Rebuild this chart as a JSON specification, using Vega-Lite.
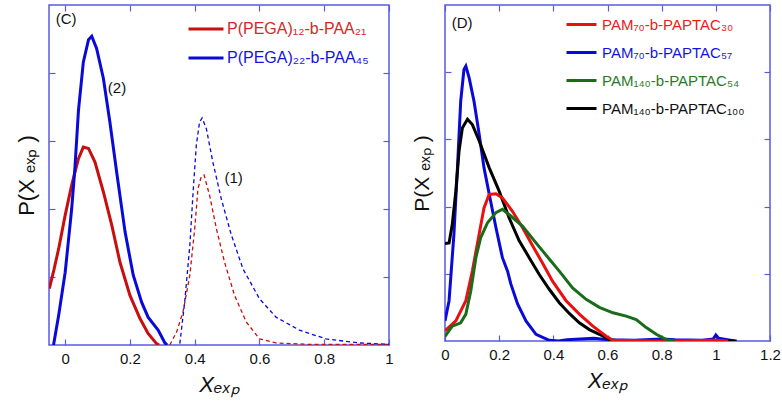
{
  "$schema": "https://vega.github.io/schema/vega-lite/v6.json",
  "padding": {"left": 14, "top": 3, "right": 3, "bottom": 5},
  "background": "white",
  "config": {
    "font": "Liberation Sans",
    "view": {"stroke": "#5a5ae6", "strokeWidth": 1.5},
    "axis": {"grid": false, "domain": false, "tickColor": "#5a5ae6", "tickWidth": 1.2, "tickSize": -6, "labelFont": "Liberation Sans", "titleFont": "Liberation Sans", "labelColor": "#111", "titleColor": "#111", "titleFontWeight": "normal", "labelFlush": false, "labelOverlap": false},
    "legend": {"labelFont": "Liberation Sans", "labelLimit": 400, "padding": 0, "symbolType": "stroke", "symbolStrokeWidth": 3, "symbolDash": [1, 0]}
  },
  "spacing": 16,
  "datasets": {
    "left": [
      {"s": "P(PEGA)₁₂-b-PAA₂₁", "k": "solid", "x": -0.049, "y": 0.83},
      {"s": "P(PEGA)₁₂-b-PAA₂₁", "k": "solid", "x": -0.035, "y": 1.1},
      {"s": "P(PEGA)₁₂-b-PAA₂₁", "k": "solid", "x": -0.02, "y": 1.42},
      {"s": "P(PEGA)₁₂-b-PAA₂₁", "k": "solid", "x": 0.0, "y": 1.91},
      {"s": "P(PEGA)₁₂-b-PAA₂₁", "k": "solid", "x": 0.02, "y": 2.35},
      {"s": "P(PEGA)₁₂-b-PAA₂₁", "k": "solid", "x": 0.041, "y": 2.74},
      {"s": "P(PEGA)₁₂-b-PAA₂₁", "k": "solid", "x": 0.056, "y": 2.91},
      {"s": "P(PEGA)₁₂-b-PAA₂₁", "k": "solid", "x": 0.072, "y": 2.89},
      {"s": "P(PEGA)₁₂-b-PAA₂₁", "k": "solid", "x": 0.092, "y": 2.69},
      {"s": "P(PEGA)₁₂-b-PAA₂₁", "k": "solid", "x": 0.118, "y": 2.25},
      {"s": "P(PEGA)₁₂-b-PAA₂₁", "k": "solid", "x": 0.144, "y": 1.76},
      {"s": "P(PEGA)₁₂-b-PAA₂₁", "k": "solid", "x": 0.169, "y": 1.22},
      {"s": "P(PEGA)₁₂-b-PAA₂₁", "k": "solid", "x": 0.2, "y": 0.73},
      {"s": "P(PEGA)₁₂-b-PAA₂₁", "k": "solid", "x": 0.231, "y": 0.39},
      {"s": "P(PEGA)₁₂-b-PAA₂₁", "k": "solid", "x": 0.256, "y": 0.17},
      {"s": "P(PEGA)₁₂-b-PAA₂₁", "k": "solid", "x": 0.282, "y": 0.02},
      {"s": "P(PEGA)₁₂-b-PAA₂₁", "k": "solid", "x": 0.29, "y": 0.0},
      {"s": "P(PEGA)₂₂-b-PAA₄₅", "k": "solid", "x": -0.036, "y": 0.0},
      {"s": "P(PEGA)₂₂-b-PAA₄₅", "k": "solid", "x": -0.02, "y": 0.44},
      {"s": "P(PEGA)₂₂-b-PAA₄₅", "k": "solid", "x": 0.0, "y": 1.07},
      {"s": "P(PEGA)₂₂-b-PAA₄₅", "k": "solid", "x": 0.02, "y": 2.0},
      {"s": "P(PEGA)₂₂-b-PAA₄₅", "k": "solid", "x": 0.03, "y": 2.6},
      {"s": "P(PEGA)₂₂-b-PAA₄₅", "k": "solid", "x": 0.041, "y": 3.45},
      {"s": "P(PEGA)₂₂-b-PAA₄₅", "k": "solid", "x": 0.056, "y": 4.16},
      {"s": "P(PEGA)₂₂-b-PAA₄₅", "k": "solid", "x": 0.072, "y": 4.49},
      {"s": "P(PEGA)₂₂-b-PAA₄₅", "k": "solid", "x": 0.082, "y": 4.54},
      {"s": "P(PEGA)₂₂-b-PAA₄₅", "k": "solid", "x": 0.097, "y": 4.36},
      {"s": "P(PEGA)₂₂-b-PAA₄₅", "k": "solid", "x": 0.118, "y": 3.92},
      {"s": "P(PEGA)₂₂-b-PAA₄₅", "k": "solid", "x": 0.138, "y": 3.28},
      {"s": "P(PEGA)₂₂-b-PAA₄₅", "k": "solid", "x": 0.159, "y": 2.54},
      {"s": "P(PEGA)₂₂-b-PAA₄₅", "k": "solid", "x": 0.185, "y": 1.66},
      {"s": "P(PEGA)₂₂-b-PAA₄₅", "k": "solid", "x": 0.21, "y": 1.03},
      {"s": "P(PEGA)₂₂-b-PAA₄₅", "k": "solid", "x": 0.236, "y": 0.63},
      {"s": "P(PEGA)₂₂-b-PAA₄₅", "k": "solid", "x": 0.256, "y": 0.41},
      {"s": "P(PEGA)₂₂-b-PAA₄₅", "k": "solid", "x": 0.287, "y": 0.22},
      {"s": "P(PEGA)₂₂-b-PAA₄₅", "k": "solid", "x": 0.308, "y": 0.03},
      {"s": "P(PEGA)₂₂-b-PAA₄₅", "k": "solid", "x": 0.315, "y": 0.0},
      {"s": "P(PEGA)₁₂-b-PAA₂₁", "k": "dash", "x": 0.323, "y": 0.0},
      {"s": "P(PEGA)₁₂-b-PAA₂₁", "k": "dash", "x": 0.344, "y": 0.19},
      {"s": "P(PEGA)₁₂-b-PAA₂₁", "k": "dash", "x": 0.364, "y": 0.49},
      {"s": "P(PEGA)₁₂-b-PAA₂₁", "k": "dash", "x": 0.385, "y": 1.03},
      {"s": "P(PEGA)₁₂-b-PAA₂₁", "k": "dash", "x": 0.4, "y": 1.71},
      {"s": "P(PEGA)₁₂-b-PAA₂₁", "k": "dash", "x": 0.41, "y": 2.3},
      {"s": "P(PEGA)₁₂-b-PAA₂₁", "k": "dash", "x": 0.42, "y": 2.47},
      {"s": "P(PEGA)₁₂-b-PAA₂₁", "k": "dash", "x": 0.429, "y": 2.5},
      {"s": "P(PEGA)₁₂-b-PAA₂₁", "k": "dash", "x": 0.446, "y": 2.2},
      {"s": "P(PEGA)₁₂-b-PAA₂₁", "k": "dash", "x": 0.467, "y": 1.71},
      {"s": "P(PEGA)₁₂-b-PAA₂₁", "k": "dash", "x": 0.492, "y": 1.22},
      {"s": "P(PEGA)₁₂-b-PAA₂₁", "k": "dash", "x": 0.523, "y": 0.73},
      {"s": "P(PEGA)₁₂-b-PAA₂₁", "k": "dash", "x": 0.559, "y": 0.34},
      {"s": "P(PEGA)₁₂-b-PAA₂₁", "k": "dash", "x": 0.6, "y": 0.09},
      {"s": "P(PEGA)₁₂-b-PAA₂₁", "k": "dash", "x": 0.651, "y": 0.03},
      {"s": "P(PEGA)₁₂-b-PAA₂₁", "k": "dash", "x": 0.75, "y": 0.01},
      {"s": "P(PEGA)₁₂-b-PAA₂₁", "k": "dash", "x": 0.9, "y": 0.01},
      {"s": "P(PEGA)₁₂-b-PAA₂₁", "k": "dash", "x": 1.0, "y": 0.01},
      {"s": "P(PEGA)₂₂-b-PAA₄₅", "k": "dash", "x": 0.354, "y": 0.02},
      {"s": "P(PEGA)₂₂-b-PAA₄₅", "k": "dash", "x": 0.369, "y": 0.63},
      {"s": "P(PEGA)₂₂-b-PAA₄₅", "k": "dash", "x": 0.385, "y": 1.47},
      {"s": "P(PEGA)₂₂-b-PAA₄₅", "k": "dash", "x": 0.395, "y": 2.25},
      {"s": "P(PEGA)₂₂-b-PAA₄₅", "k": "dash", "x": 0.405, "y": 2.94},
      {"s": "P(PEGA)₂₂-b-PAA₄₅", "k": "dash", "x": 0.415, "y": 3.28},
      {"s": "P(PEGA)₂₂-b-PAA₄₅", "k": "dash", "x": 0.423, "y": 3.34},
      {"s": "P(PEGA)₂₂-b-PAA₄₅", "k": "dash", "x": 0.436, "y": 3.18},
      {"s": "P(PEGA)₂₂-b-PAA₄₅", "k": "dash", "x": 0.456, "y": 2.69},
      {"s": "P(PEGA)₂₂-b-PAA₄₅", "k": "dash", "x": 0.482, "y": 2.15},
      {"s": "P(PEGA)₂₂-b-PAA₄₅", "k": "dash", "x": 0.513, "y": 1.62},
      {"s": "P(PEGA)₂₂-b-PAA₄₅", "k": "dash", "x": 0.549, "y": 1.12},
      {"s": "P(PEGA)₂₂-b-PAA₄₅", "k": "dash", "x": 0.6, "y": 0.68},
      {"s": "P(PEGA)₂₂-b-PAA₄₅", "k": "dash", "x": 0.651, "y": 0.41},
      {"s": "P(PEGA)₂₂-b-PAA₄₅", "k": "dash", "x": 0.723, "y": 0.22},
      {"s": "P(PEGA)₂₂-b-PAA₄₅", "k": "dash", "x": 0.805, "y": 0.09},
      {"s": "P(PEGA)₂₂-b-PAA₄₅", "k": "dash", "x": 0.908, "y": 0.03},
      {"s": "P(PEGA)₂₂-b-PAA₄₅", "k": "dash", "x": 1.0, "y": 0.01}
    ],
    "leftNotes": [
      {"t": "(C)", "x": 0.003, "y": 4.79},
      {"t": "(2)", "x": 0.16, "y": 3.78},
      {"t": "(1)", "x": 0.52, "y": 2.46}
    ],
    "right": [
      {"s": "PAM₇₀-b-PAPTAC₅₇", "x": 0.0, "y": 0.3},
      {"s": "PAM₇₀-b-PAPTAC₅₇", "x": 0.015, "y": 0.6},
      {"s": "PAM₇₀-b-PAPTAC₅₇", "x": 0.033, "y": 1.59},
      {"s": "PAM₇₀-b-PAPTAC₅₇", "x": 0.046, "y": 2.58},
      {"s": "PAM₇₀-b-PAPTAC₅₇", "x": 0.058, "y": 3.57},
      {"s": "PAM₇₀-b-PAPTAC₅₇", "x": 0.07, "y": 4.04},
      {"s": "PAM₇₀-b-PAPTAC₅₇", "x": 0.077, "y": 4.09},
      {"s": "PAM₇₀-b-PAPTAC₅₇", "x": 0.089, "y": 3.92},
      {"s": "PAM₇₀-b-PAPTAC₅₇", "x": 0.107, "y": 3.57},
      {"s": "PAM₇₀-b-PAPTAC₅₇", "x": 0.126, "y": 3.08},
      {"s": "PAM₇₀-b-PAPTAC₅₇", "x": 0.144, "y": 2.58},
      {"s": "PAM₇₀-b-PAPTAC₅₇", "x": 0.163, "y": 2.19},
      {"s": "PAM₇₀-b-PAPTAC₅₇", "x": 0.188, "y": 1.69},
      {"s": "PAM₇₀-b-PAPTAC₅₇", "x": 0.212, "y": 1.24},
      {"s": "PAM₇₀-b-PAPTAC₅₇", "x": 0.231, "y": 1.04},
      {"s": "PAM₇₀-b-PAPTAC₅₇", "x": 0.243, "y": 0.85},
      {"s": "PAM₇₀-b-PAPTAC₅₇", "x": 0.268, "y": 0.55},
      {"s": "PAM₇₀-b-PAPTAC₅₇", "x": 0.299, "y": 0.3},
      {"s": "PAM₇₀-b-PAPTAC₅₇", "x": 0.336, "y": 0.1},
      {"s": "PAM₇₀-b-PAPTAC₅₇", "x": 0.385, "y": 0.01},
      {"s": "PAM₇₀-b-PAPTAC₅₇", "x": 0.42, "y": 0.0},
      {"s": "PAM₇₀-b-PAPTAC₅₇", "x": 0.45, "y": 0.02},
      {"s": "PAM₇₀-b-PAPTAC₅₇", "x": 0.5, "y": 0.03},
      {"s": "PAM₇₀-b-PAPTAC₅₇", "x": 0.55, "y": 0.04},
      {"s": "PAM₇₀-b-PAPTAC₅₇", "x": 0.6, "y": 0.02},
      {"s": "PAM₇₀-b-PAPTAC₅₇", "x": 0.7, "y": 0.01},
      {"s": "PAM₇₀-b-PAPTAC₅₇", "x": 0.8, "y": 0.03},
      {"s": "PAM₇₀-b-PAPTAC₅₇", "x": 0.85, "y": 0.02},
      {"s": "PAM₇₀-b-PAPTAC₅₇", "x": 0.95, "y": 0.01},
      {"s": "PAM₇₀-b-PAPTAC₅₇", "x": 0.99, "y": 0.03},
      {"s": "PAM₇₀-b-PAPTAC₅₇", "x": 1.0, "y": 0.09},
      {"s": "PAM₇₀-b-PAPTAC₅₇", "x": 1.01, "y": 0.04},
      {"s": "PAM₇₀-b-PAPTAC₅₇", "x": 1.07, "y": 0.0},
      {"s": "PAM₁₄₀-b-PAPTAC₁₀₀", "x": 0.0, "y": 1.45},
      {"s": "PAM₁₄₀-b-PAPTAC₁₀₀", "x": 0.015, "y": 1.46},
      {"s": "PAM₁₄₀-b-PAPTAC₁₀₀", "x": 0.027, "y": 1.74},
      {"s": "PAM₁₄₀-b-PAPTAC₁₀₀", "x": 0.04, "y": 2.23},
      {"s": "PAM₁₄₀-b-PAPTAC₁₀₀", "x": 0.052, "y": 2.83},
      {"s": "PAM₁₄₀-b-PAPTAC₁₀₀", "x": 0.064, "y": 3.17},
      {"s": "PAM₁₄₀-b-PAPTAC₁₀₀", "x": 0.083, "y": 3.3},
      {"s": "PAM₁₄₀-b-PAPTAC₁₀₀", "x": 0.101, "y": 3.22},
      {"s": "PAM₁₄₀-b-PAPTAC₁₀₀", "x": 0.126, "y": 2.98},
      {"s": "PAM₁₄₀-b-PAPTAC₁₀₀", "x": 0.163, "y": 2.58},
      {"s": "PAM₁₄₀-b-PAPTAC₁₀₀", "x": 0.2, "y": 2.23},
      {"s": "PAM₁₄₀-b-PAPTAC₁₀₀", "x": 0.237, "y": 1.83},
      {"s": "PAM₁₄₀-b-PAPTAC₁₀₀", "x": 0.274, "y": 1.49},
      {"s": "PAM₁₄₀-b-PAPTAC₁₀₀", "x": 0.311, "y": 1.24},
      {"s": "PAM₁₄₀-b-PAPTAC₁₀₀", "x": 0.348, "y": 0.99},
      {"s": "PAM₁₄₀-b-PAPTAC₁₀₀", "x": 0.385, "y": 0.77},
      {"s": "PAM₁₄₀-b-PAPTAC₁₀₀", "x": 0.422, "y": 0.57},
      {"s": "PAM₁₄₀-b-PAPTAC₁₀₀", "x": 0.459, "y": 0.41},
      {"s": "PAM₁₄₀-b-PAPTAC₁₀₀", "x": 0.496, "y": 0.27},
      {"s": "PAM₁₄₀-b-PAPTAC₁₀₀", "x": 0.533, "y": 0.17},
      {"s": "PAM₁₄₀-b-PAPTAC₁₀₀", "x": 0.57, "y": 0.1},
      {"s": "PAM₁₄₀-b-PAPTAC₁₀₀", "x": 0.607, "y": 0.02},
      {"s": "PAM₁₄₀-b-PAPTAC₁₀₀", "x": 0.65, "y": 0.0},
      {"s": "PAM₁₄₀-b-PAPTAC₁₀₀", "x": 1.077, "y": 0.0},
      {"s": "PAM₇₀-b-PAPTAC₃₀", "x": 0.0, "y": 0.15},
      {"s": "PAM₇₀-b-PAPTAC₃₀", "x": 0.04, "y": 0.3},
      {"s": "PAM₇₀-b-PAPTAC₃₀", "x": 0.077, "y": 0.6},
      {"s": "PAM₇₀-b-PAPTAC₃₀", "x": 0.101, "y": 1.04},
      {"s": "PAM₇₀-b-PAPTAC₃₀", "x": 0.126, "y": 1.59},
      {"s": "PAM₇₀-b-PAPTAC₃₀", "x": 0.144, "y": 1.98},
      {"s": "PAM₇₀-b-PAPTAC₃₀", "x": 0.163, "y": 2.18},
      {"s": "PAM₇₀-b-PAPTAC₃₀", "x": 0.188, "y": 2.19},
      {"s": "PAM₇₀-b-PAPTAC₃₀", "x": 0.212, "y": 2.13},
      {"s": "PAM₇₀-b-PAPTAC₃₀", "x": 0.249, "y": 1.93},
      {"s": "PAM₇₀-b-PAPTAC₃₀", "x": 0.286, "y": 1.69},
      {"s": "PAM₇₀-b-PAPTAC₃₀", "x": 0.323, "y": 1.42},
      {"s": "PAM₇₀-b-PAPTAC₃₀", "x": 0.36, "y": 1.16},
      {"s": "PAM₇₀-b-PAPTAC₃₀", "x": 0.397, "y": 0.89},
      {"s": "PAM₇₀-b-PAPTAC₃₀", "x": 0.447, "y": 0.6},
      {"s": "PAM₇₀-b-PAPTAC₃₀", "x": 0.496, "y": 0.4},
      {"s": "PAM₇₀-b-PAPTAC₃₀", "x": 0.546, "y": 0.22},
      {"s": "PAM₇₀-b-PAPTAC₃₀", "x": 0.595, "y": 0.07},
      {"s": "PAM₇₀-b-PAPTAC₃₀", "x": 0.62, "y": 0.01},
      {"s": "PAM₇₀-b-PAPTAC₃₀", "x": 0.8, "y": 0.0},
      {"s": "PAM₇₀-b-PAPTAC₃₀", "x": 1.0, "y": 0.01},
      {"s": "PAM₇₀-b-PAPTAC₃₀", "x": 1.045, "y": 0.0},
      {"s": "PAM₁₄₀-b-PAPTAC₅₄", "x": 0.0, "y": 0.07},
      {"s": "PAM₁₄₀-b-PAPTAC₅₄", "x": 0.027, "y": 0.22},
      {"s": "PAM₁₄₀-b-PAPTAC₅₄", "x": 0.058, "y": 0.27},
      {"s": "PAM₁₄₀-b-PAPTAC₅₄", "x": 0.077, "y": 0.4},
      {"s": "PAM₁₄₀-b-PAPTAC₅₄", "x": 0.095, "y": 0.74},
      {"s": "PAM₁₄₀-b-PAPTAC₅₄", "x": 0.114, "y": 1.24},
      {"s": "PAM₁₄₀-b-PAPTAC₅₄", "x": 0.132, "y": 1.54},
      {"s": "PAM₁₄₀-b-PAPTAC₅₄", "x": 0.157, "y": 1.76},
      {"s": "PAM₁₄₀-b-PAPTAC₅₄", "x": 0.188, "y": 1.91},
      {"s": "PAM₁₄₀-b-PAPTAC₅₄", "x": 0.212, "y": 1.96},
      {"s": "PAM₁₄₀-b-PAPTAC₅₄", "x": 0.243, "y": 1.86},
      {"s": "PAM₁₄₀-b-PAPTAC₅₄", "x": 0.286, "y": 1.71},
      {"s": "PAM₁₄₀-b-PAPTAC₅₄", "x": 0.336, "y": 1.46},
      {"s": "PAM₁₄₀-b-PAPTAC₅₄", "x": 0.385, "y": 1.22},
      {"s": "PAM₁₄₀-b-PAPTAC₅₄", "x": 0.422, "y": 1.04},
      {"s": "PAM₁₄₀-b-PAPTAC₅₄", "x": 0.471, "y": 0.79},
      {"s": "PAM₁₄₀-b-PAPTAC₅₄", "x": 0.521, "y": 0.62},
      {"s": "PAM₁₄₀-b-PAPTAC₅₄", "x": 0.57, "y": 0.5},
      {"s": "PAM₁₄₀-b-PAPTAC₅₄", "x": 0.62, "y": 0.42},
      {"s": "PAM₁₄₀-b-PAPTAC₅₄", "x": 0.669, "y": 0.37},
      {"s": "PAM₁₄₀-b-PAPTAC₅₄", "x": 0.706, "y": 0.32},
      {"s": "PAM₁₄₀-b-PAPTAC₅₄", "x": 0.743, "y": 0.2},
      {"s": "PAM₁₄₀-b-PAPTAC₅₄", "x": 0.78, "y": 0.1},
      {"s": "PAM₁₄₀-b-PAPTAC₅₄", "x": 0.817, "y": 0.02},
      {"s": "PAM₁₄₀-b-PAPTAC₅₄", "x": 0.85, "y": 0.0}
    ],
    "rightNotes": [
      {"t": "(D)", "x": 0.063, "y": 4.73}
    ]
  },
  "hconcat": [
    {
      "width": 340,
      "height": 340,
      "layer": [
        {
          "data": {"name": "left"},
          "transform": [{"filter": "datum.k == 'solid'"}],
          "mark": {"type": "line", "strokeWidth": 3, "clip": true},
          "encoding": {
            "x": {"field": "x", "type": "quantitative", "scale": {"domain": [-0.05, 1], "nice": false, "zero": false},
                  "axis": {"orient": "bottom", "values": [0, 0.2, 0.4, 0.6, 0.8, 1], "format": "~g", "labelFontSize": 15, "labelPadding": 12, "title": "Xₑₓₚ", "titleFontStyle": "italic", "titleFontSize": 22, "titlePadding": 8}},
            "y": {"field": "y", "type": "quantitative", "scale": {"domain": [0, 5], "nice": false},
                  "axis": {"orient": "left", "values": [1, 2, 3, 4], "labels": false, "title": "P(X ₑₓₚ )", "titleFontSize": 22, "titlePadding": 10}},
            "color": {"field": "s", "type": "nominal",
                      "scale": {"domain": ["P(PEGA)₁₂-b-PAA₂₁", "P(PEGA)₂₂-b-PAA₄₅"], "range": ["#c80f0f", "#0a0ad8"]},
                      "legend": {"title": null, "orient": "none", "legendX": 138, "legendY": 5, "labelFontSize": 16, "symbolSize": 1225, "rowPadding": 2, "labelOffset": 2,
                                 "encode": {"labels": {"update": {"fill": {"signal": "datum.value == 'P(PEGA)₁₂-b-PAA₂₁' ? '#d42828' : '#1414e0'"}}}}}}
          }
        },
        {
          "data": {"name": "left"},
          "transform": [{"filter": "datum.k == 'dash'"}],
          "mark": {"type": "line", "strokeWidth": 1.3, "strokeDash": [4, 3], "clip": true},
          "encoding": {
            "x": {"field": "x", "type": "quantitative", "axis": {"orient": "top", "values": [0, 0.2, 0.4, 0.6, 0.8, 1], "labels": false, "title": null}},
            "y": {"field": "y", "type": "quantitative", "axis": {"orient": "right", "values": [1, 2, 3, 4], "labels": false, "title": null}},
            "color": {"field": "s", "type": "nominal"}
          }
        },
        {
          "data": {"name": "leftNotes"},
          "mark": {"type": "text", "fontSize": 15, "color": "#111", "align": "center", "baseline": "middle"},
          "encoding": {
            "x": {"field": "x", "type": "quantitative", "axis": null},
            "y": {"field": "y", "type": "quantitative", "axis": null},
            "text": {"field": "t"}
          }
        }
      ],
      "resolve": {"axis": {"x": "independent", "y": "independent"}}
    },
    {
      "width": 325,
      "height": 336,
      "layer": [
        {
          "data": {"name": "right"},
          "mark": {"type": "line", "strokeWidth": 3, "clip": true},
          "encoding": {
            "x": {"field": "x", "type": "quantitative", "scale": {"domain": [0, 1.2], "nice": false},
                  "axis": {"orient": "bottom", "values": [0, 0.2, 0.4, 0.6, 0.8, 1, 1.2], "format": "~g", "labelFontSize": 15, "labelPadding": 12, "title": "Xₑₓₚ", "titleFontStyle": "italic", "titleFontSize": 22, "titlePadding": 8}},
            "y": {"field": "y", "type": "quantitative", "scale": {"domain": [0, 5], "nice": false},
                  "axis": {"orient": "left", "values": [1, 2, 3, 4], "labels": false, "title": "P(X ₑₓₚ )", "titleFontSize": 21, "titlePadding": 12}},
            "color": {"field": "s", "type": "nominal",
                      "scale": {"domain": ["PAM₇₀-b-PAPTAC₃₀", "PAM₇₀-b-PAPTAC₅₇", "PAM₁₄₀-b-PAPTAC₅₄", "PAM₁₄₀-b-PAPTAC₁₀₀"], "range": ["#e81010", "#0a0ad8", "#1a6b1a", "#000000"]},
                      "legend": {"title": null, "orient": "none", "legendX": 120, "legendY": 3, "labelFontSize": 15, "symbolSize": 900, "rowPadding": 3, "labelOffset": 4,
                                 "encode": {"labels": {"update": {"fill": {"signal": "datum.value == 'PAM₇₀-b-PAPTAC₃₀' ? '#e82020' : datum.value == 'PAM₇₀-b-PAPTAC₅₇' ? '#1414e0' : datum.value == 'PAM₁₄₀-b-PAPTAC₅₄' ? '#2a7a2a' : '#111111'"}}}}}},
            "detail": {"field": "s"}
          }
        },
        {
          "data": {"name": "right"},
          "mark": {"type": "line", "opacity": 0, "clip": true},
          "encoding": {
            "x": {"field": "x", "type": "quantitative", "axis": {"orient": "top", "values": [0, 0.2, 0.4, 0.6, 0.8, 1, 1.2], "labels": false, "title": null}},
            "y": {"field": "y", "type": "quantitative", "axis": {"orient": "right", "values": [1, 2, 3, 4], "labels": false, "title": null}},
            "detail": {"field": "s"}
          }
        },
        {
          "data": {"name": "rightNotes"},
          "mark": {"type": "text", "fontSize": 15, "color": "#111", "align": "center", "baseline": "middle"},
          "encoding": {
            "x": {"field": "x", "type": "quantitative", "axis": null},
            "y": {"field": "y", "type": "quantitative", "axis": null},
            "text": {"field": "t"}
          }
        }
      ],
      "resolve": {"axis": {"x": "independent", "y": "independent"}}
    }
  ],
  "resolve": {"scale": {"color": "independent"}, "legend": {"color": "independent"}}
}
